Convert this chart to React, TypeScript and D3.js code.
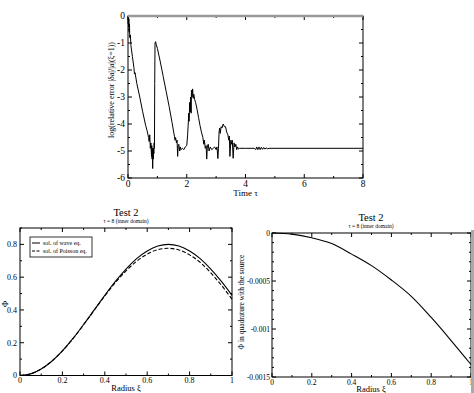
import React from "react";
import * as d3 from "d3";

// ---------- Top panel: log relative error vs time ----------
const errTime = [
  0, 0.01, 0.02, 0.03, 0.04, 0.05, 0.06, 0.08, 0.1, 0.15, 0.2, 0.22, 0.24, 0.3, 0.4, 0.5, 0.6, 0.65, 0.7, 0.72,
  0.74, 0.76, 0.78, 0.8, 0.81, 0.82, 0.83, 0.84, 0.85, 0.86, 0.87, 0.88, 0.89, 0.9, 0.91, 0.92, 0.94, 0.96,
  1.0, 1.1, 1.2, 1.3, 1.4, 1.5, 1.58, 1.6, 1.62, 1.65, 1.67, 1.69, 1.71, 1.73, 1.76, 1.78, 1.8, 1.85, 1.9,
  1.95, 2.0, 2.03, 2.05, 2.07, 2.08, 2.1, 2.12, 2.13, 2.15, 2.16, 2.18, 2.2, 2.22, 2.24, 2.27, 2.3, 2.35,
  2.4, 2.45, 2.5, 2.55, 2.58, 2.6, 2.63, 2.66, 2.68, 2.7, 2.73, 2.76, 2.8, 2.85, 2.9, 2.95, 3.0, 3.03,
  3.06, 3.08, 3.1, 3.12, 3.14, 3.17, 3.2, 3.24, 3.28, 3.32, 3.36, 3.4, 3.43, 3.45, 3.47, 3.5, 3.53, 3.55,
  3.58, 3.61, 3.64, 3.67, 3.7, 3.73, 3.76, 3.8, 4.0, 4.3, 4.35, 4.38, 4.42, 4.46, 4.5, 4.54, 4.58, 4.62,
  4.66, 4.7, 4.75, 4.8, 8,
];
const errLog = [
  -0.3, -0.05, -0.4, -0.1, -0.6, -0.3, -0.8, -0.7, -1.1, -1.5, -1.9, -2.15, -2.1, -2.5, -3.0, -3.55, -4.05,
  -4.25, -4.5, -4.65, -4.4, -4.9, -4.7, -5.2, -4.8, -5.3, -4.9, -5.65, -5.0, -5.3, -4.9, -5.1, -4.7, -4.9,
  -2.5, -1.0, -0.95, -1.05, -1.2, -1.7, -2.25, -2.8, -3.35, -3.95, -4.45, -4.6, -4.5, -4.7, -4.6, -5.2,
  -4.8, -4.75, -5.0, -4.85, -4.95, -4.9, -4.95, -4.85, -4.8, -4.4, -4.0, -3.6, -3.9, -3.2, -3.55, -3.0,
  -3.6, -2.75, -3.0, -2.7, -3.05, -2.9, -3.1, -3.2, -3.45, -3.75, -4.05, -4.3, -4.5, -4.75, -4.6, -4.9,
  -4.8, -5.3, -4.85, -4.75, -5.0, -4.85, -4.95, -4.9, -4.85, -4.95, -4.85, -5.28, -4.9, -4.3, -4.15,
  -4.35, -4.1, -4.15, -4.0, -4.1, -4.1, -4.3, -4.4, -4.6, -4.45, -5.2, -4.6, -4.75, -4.6, -5.27, -4.7,
  -4.85, -4.75, -4.95, -4.85, -4.93, -4.9, -4.9, -4.9, -4.95, -4.85, -4.95, -4.85, -4.95, -4.86, -4.94,
  -4.87, -4.93, -4.88, -4.92, -4.9, -4.9,
];
const timeTicks = [0, 2, 4, 6, 8];
const errTicks = [0, -1, -2, -3, -4, -5, -6];

// ---------- Bottom-left: Phi, wave vs Poisson ----------
const radius = [0, 0.05, 0.1, 0.15, 0.2, 0.25, 0.3, 0.35, 0.4, 0.45, 0.5, 0.55, 0.6, 0.65, 0.7, 0.75, 0.8, 0.85, 0.9, 0.95, 1.0];
const phiWave = [0, 0.01, 0.04, 0.087, 0.15, 0.226, 0.311, 0.4, 0.489, 0.574, 0.649, 0.713, 0.76, 0.79, 0.8, 0.79, 0.76, 0.713, 0.649, 0.574, 0.489];
const phiPoisson = [0, 0.01, 0.04, 0.087, 0.15, 0.225, 0.31, 0.398, 0.486, 0.567, 0.638, 0.697, 0.741, 0.768, 0.776, 0.766, 0.736, 0.69, 0.626, 0.551, 0.466];
const radiusTicks = [0, 0.2, 0.4, 0.6, 0.8, 1];
const phiTicks = [0, 0.2, 0.4, 0.6, 0.8];
const legendLabels = ["sol. of wave eq.", "sol. of Poisson eq."];

// ---------- Bottom-right: Phi in quadrature ----------
const radiusQ = [0, 0.1, 0.2, 0.3, 0.4, 0.5, 0.6, 0.7, 0.8, 0.9, 1.0];
const phiQuad = [0, -0.000012, -0.00005, -0.00011, -0.00022, -0.00034, -0.00049, -0.00066, -0.00088, -0.00112, -0.00137];
const quadTicks = [0, -0.0005, -0.001, -0.0015];
const quadLabels = ["0", "-0.0005", "-0.001", "-0.0015"];

const FONT = "'Liberation Serif', 'DejaVu Serif', serif";

type AxesProps = {
  xs: d3.ScaleLinear<number, number>;
  ys: d3.ScaleLinear<number, number>;
  xMajor: number[];
  xMinor: number[];
  yMajor: number[];
  yMinor: number[];
  xLabels: string[];
  yLabels: string[];
  fs: number;
  xLabelDy: number;
  yLabelDx: number;
};

function Axes({ xs, ys, xMajor, xMinor, yMajor, yMinor, xLabels, yLabels, fs, xLabelDy, yLabelDx }: AxesProps) {
  const [x0, x1] = xs.range();
  const [y0, y1] = ys.range(); // y0 bottom, y1 top
  const maj = 4;
  const min = 2;
  return (
    <g>
      <rect x={x0} y={y1} width={x1 - x0} height={y0 - y1} fill="none" stroke="#000" strokeWidth={1} />
      {xMajor.map((v, i) => (
        <g key={"xM" + i}>
          <line x1={xs(v)} x2={xs(v)} y1={y0} y2={y0 - maj} stroke="#000" />
          <line x1={xs(v)} x2={xs(v)} y1={y1} y2={y1 + maj} stroke="#000" />
          <text x={xs(v)} y={y0 + xLabelDy} fontSize={fs} textAnchor="middle" fontFamily={FONT} fill="#000">
            {xLabels[i]}
          </text>
        </g>
      ))}
      {xMinor.map((v, i) => (
        <g key={"xm" + i}>
          <line x1={xs(v)} x2={xs(v)} y1={y0} y2={y0 - min} stroke="#000" />
          <line x1={xs(v)} x2={xs(v)} y1={y1} y2={y1 + min} stroke="#000" />
        </g>
      ))}
      {yMajor.map((v, i) => (
        <g key={"yM" + i}>
          <line x1={x0} x2={x0 + maj} y1={ys(v)} y2={ys(v)} stroke="#000" />
          <line x1={x1} x2={x1 - maj} y1={ys(v)} y2={ys(v)} stroke="#000" />
          <text x={x0 - yLabelDx} y={ys(v) + fs * 0.35} fontSize={fs} textAnchor="end" fontFamily={FONT} fill="#000">
            {yLabels[i]}
          </text>
        </g>
      ))}
      {yMinor.map((v, i) => (
        <g key={"ym" + i}>
          <line x1={x0} x2={x0 + min} y1={ys(v)} y2={ys(v)} stroke="#000" />
          <line x1={x1} x2={x1 - min} y1={ys(v)} y2={ys(v)} stroke="#000" />
        </g>
      ))}
    </g>
  );
}

export default function App() {
  // top panel
  const xT = d3.scaleLinear().domain([0, 8]).range([128, 363]);
  const yT = d3.scaleLinear().domain([-6, 0]).range([178, 16]);
  const errLine = d3
    .line<number>()
    .x((_, i) => xT(errTime[i]))
    .y((d) => yT(d));

  // bottom-left
  const xL = d3.scaleLinear().domain([0, 1]).range([20, 232]);
  const yL = d3.scaleLinear().domain([0, 0.9]).range([375.5, 228]);
  const waveLine = d3
    .line<number>()
    .x((_, i) => xL(radius[i]))
    .y((d) => yL(d))
    .curve(d3.curveCatmullRom);

  // bottom-right
  const xR = d3.scaleLinear().domain([0, 1]).range([272, 471]);
  const yR = d3.scaleLinear().domain([-0.0015, 0]).range([377, 233]);
  const quadLine = d3
    .line<number>()
    .x((_, i) => xR(radiusQ[i]))
    .y((d) => yR(d))
    .curve(d3.curveCatmullRom);

  const range = (a: number, b: number, s: number) => d3.range(a, b + s / 2, s).map((v) => +v.toFixed(6));

  return (
    <svg
      width={474}
      height={393}
      style={{ position: "absolute", left: 0, top: 0, background: "#fff" }}
      fontFamily={FONT}
    >
      <rect x={0} y={0} width={474} height={393} fill="#fff" />

      {/* ---------- Top panel ---------- */}
      <Axes
        xs={xT}
        ys={yT}
        xMajor={timeTicks}
        xMinor={[1, 3, 5, 7]}
        yMajor={errTicks}
        yMinor={range(-5.5, -0.5, 1)}
        xLabels={timeTicks.map(String)}
        yLabels={errTicks.map(String)}
        fs={9.5}
        xLabelDy={9}
        yLabelDx={3}
      />
      <line x1={128} x2={363} y1={16} y2={16} stroke="#999" strokeWidth={2.5} />
      <path d={errLine(errLog) || ""} fill="none" stroke="#000" strokeWidth={1} />
      <text x={245.5} y={196} fontSize={9} textAnchor="middle" fill="#000">
        Time τ
      </text>
      <text transform="translate(114,90) rotate(-90)" fontSize={8} textAnchor="middle" fill="#000">
        log(relative error |δa|/|a|(ξ=1))
      </text>

      {/* ---------- Bottom-left ---------- */}
      <text x={126} y={216} fontSize={10.5} textAnchor="middle" fill="#000">
        Test 2
      </text>
      <text x={126} y={222.5} fontSize={5.5} textAnchor="middle" fill="#000">
        τ = 8 (inner domain)
      </text>
      <Axes
        xs={xL}
        ys={yL}
        xMajor={radiusTicks}
        xMinor={range(0.1, 0.9, 0.2)}
        yMajor={phiTicks}
        yMinor={range(0.1, 0.9, 0.2)}
        xLabels={["0", "0.2", "0.4", "0.6", "0.8", "1"]}
        yLabels={["0", "0.2", "0.4", "0.6", "0.8"]}
        fs={8}
        xLabelDy={7.5}
        yLabelDx={3}
      />
      <path d={waveLine(phiWave) || ""} fill="none" stroke="#000" strokeWidth={1.1} />
      <path d={waveLine(phiPoisson) || ""} fill="none" stroke="#000" strokeWidth={1.1} strokeDasharray="4,2" />
      <rect x={30} y={237} width={62} height={20} fill="#fff" stroke="#000" strokeWidth={0.8} />
      <line x1={32} x2={40} y1={243} y2={243} stroke="#000" strokeWidth={1} />
      <line x1={32} x2={40} y1={251} y2={251} stroke="#000" strokeWidth={1} strokeDasharray="3,1.5" />
      <text x={43} y={245} fontSize={6} fill="#000">
        {legendLabels[0]}
      </text>
      <text x={43} y={253} fontSize={6} fill="#000">
        {legendLabels[1]}
      </text>
      <text x={126} y={391} fontSize={8.5} textAnchor="middle" fill="#000">
        Radius ξ
      </text>
      <text transform="translate(8,304) rotate(-90)" fontSize={8.5} textAnchor="middle" fill="#000">
        Φ
      </text>

      {/* ---------- Bottom-right ---------- */}
      <text x={371} y={221} fontSize={10.5} textAnchor="middle" fill="#000">
        Test 2
      </text>
      <text x={371} y={227.5} fontSize={5.5} textAnchor="middle" fill="#000">
        τ = 8 (inner domain)
      </text>
      <Axes
        xs={xR}
        ys={yR}
        xMajor={radiusTicks}
        xMinor={range(0.1, 0.9, 0.2)}
        yMajor={quadTicks}
        yMinor={range(-0.0014, -0.0001, 0.0001).filter((v) => Math.abs((v * 10000) % 5) > 0.01)}
        xLabels={["0", "0.2", "0.4", "0.6", "0.8", "1"]}
        yLabels={quadLabels}
        fs={7.5}
        xLabelDy={7.5}
        yLabelDx={2}
      />
      <line x1={472.5} x2={472.5} y1={230} y2={393} stroke="#aaa" strokeWidth={3} />
      <path d={quadLine(phiQuad) || ""} fill="none" stroke="#000" strokeWidth={1.1} />
      <text x={371} y={391.5} fontSize={8.5} textAnchor="middle" fill="#000">
        Radius ξ
      </text>
      <text transform="translate(244,302) rotate(-90)" fontSize={7.5} textAnchor="middle" fill="#000">
        Φ in quadrature with the source
      </text>
    </svg>
  );
}
